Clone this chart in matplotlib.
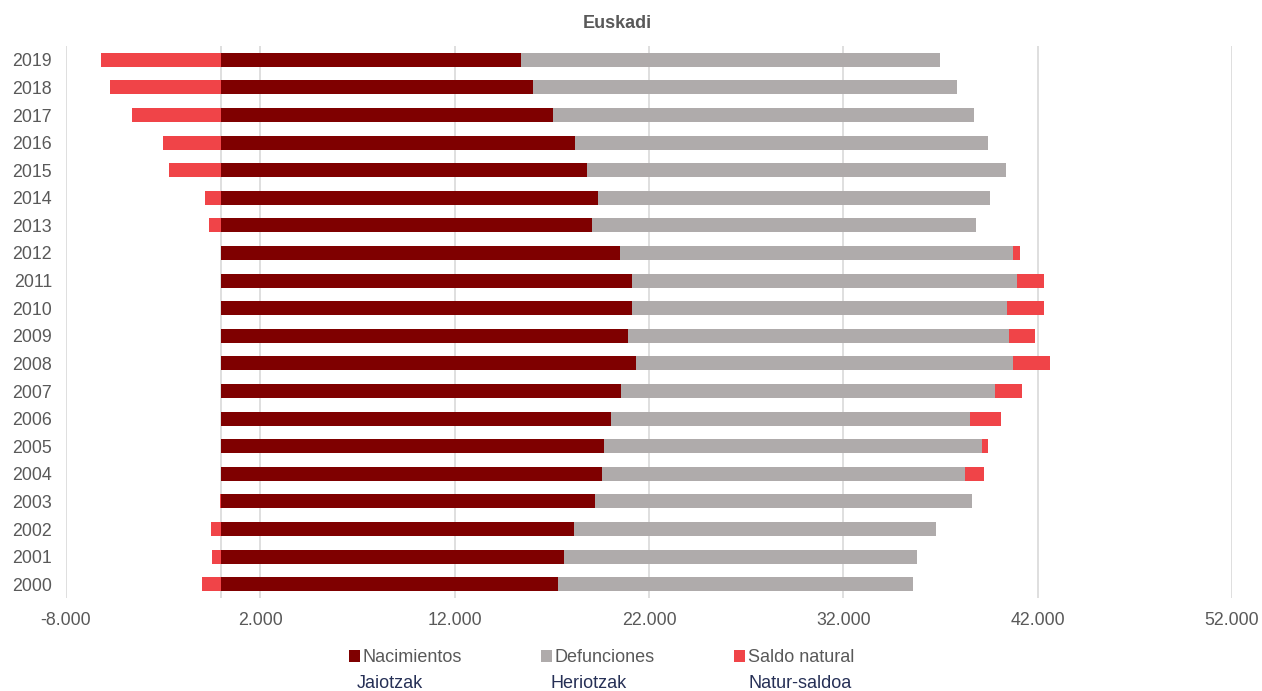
import numpy as np
import matplotlib
matplotlib.use("Agg")
from matplotlib import pyplot as plt
from matplotlib.ticker import FuncFormatter

plt.rcParams["font.family"] = ["Liberation Sans", "DejaVu Sans"]

years = ["2000", "2001", "2002", "2003", "2004", "2005", "2006", "2007", "2008", "2009",
         "2010", "2011", "2012", "2013", "2014", "2015", "2016", "2017", "2018", "2019"]
nacimientos = [17300, 17630, 18120, 19240, 19580, 19700, 20030, 20570, 21310, 20900,
               21110, 21150, 20520, 19090, 19350, 18820, 18210, 17050, 16050, 15390]
defunciones = [18300, 18150, 18660, 19370, 18660, 19410, 18500, 19240, 19410, 19600,
               19320, 19800, 20230, 19750, 20210, 21550, 21250, 21690, 21820, 21600]
saldo = [-980, -480, -530, -100, 980, 330, 1570, 1380, 1930, 1380,
         1880, 1400, 320, -630, -830, -2700, -3020, -4600, -5730, -6180]

c_nac = "#7f0000"
c_def = "#afabab"
c_sal = "#f04448"

fig = plt.figure(figsize=(12.62, 6.91), dpi=100)
ax = fig.add_axes([66 / 1262, 1 - 598 / 691, (1232 - 66) / 1262, (598 - 46) / 691])

y = np.arange(len(years))
nac = np.array(nacimientos)
dfn = np.array(defunciones)
sal = np.array(saldo)
h = 0.5

ax.barh(y, nac, height=h, color=c_nac, label="Nacimientos", zorder=3)
ax.barh(y, dfn, left=nac, height=h, color=c_def, label="Defunciones", zorder=3)
sal_left = np.where(sal > 0, nac + dfn, 0)
ax.barh(y, sal, left=sal_left, height=h, color=c_sal, label="Saldo natural", zorder=3)

ax.set_xlim(-8000, 52000)
ax.set_ylim(-0.5, len(years) - 0.5)
ax.set_xticks(np.arange(-8000, 52001, 10000))
ax.xaxis.set_major_formatter(FuncFormatter(lambda v, p: "{:,.0f}".format(v).replace(",", ".")))
ax.set_yticks(y)
ax.set_yticklabels(years)

ax.grid(axis="x", color="#d9d9d9", linewidth=1.2, zorder=0)
ax.axvline(0, color="#d9d9d9", linewidth=1.2, zorder=1)
for s in ax.spines.values():
    s.set_visible(False)
ax.tick_params(axis="both", length=0, labelsize=12.8, labelcolor="#595959")
ax.tick_params(axis="y", pad=10)
ax.tick_params(axis="x", pad=10)

fig.text(617 / 1262, 1 - 23 / 691, "Euskadi", ha="center", va="center",
         fontsize=13, fontweight="bold", color="#595959")

fig.legend(loc="center left", bbox_to_anchor=(349 / 1262, 1 - 658 / 691), ncol=3,
           frameon=False, fontsize=13, handlelength=0.6, handleheight=0.6,
           handletextpad=0.15, columnspacing=4.4, borderpad=0, borderaxespad=0,
           labelcolor="#595959")

for xpos, txt in [(357, "Jaiotzak"), (551, "Heriotzak"), (748, "Natur-saldoa")]:
    fig.text(xpos / 1262, 1 - 684 / 691, txt, ha="left", va="center",
             fontsize=13, color="#263056")

fig.savefig("out.png", dpi=100)
